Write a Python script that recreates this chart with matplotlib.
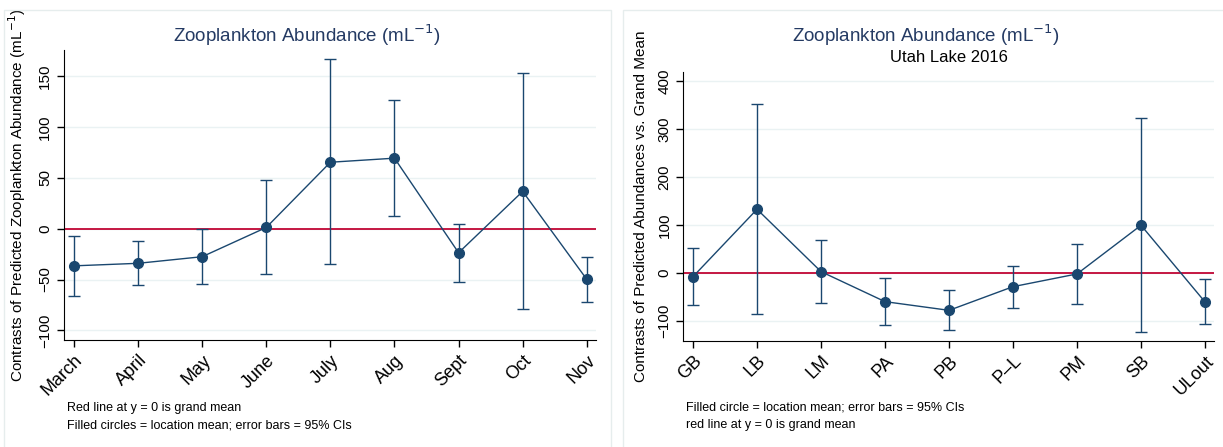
import matplotlib.pyplot as plt
from matplotlib.patches import Rectangle

plt.rcParams['font.family'] = ['Liberation Sans', 'DejaVu Sans']

# month contrasts (left panel)
months = ['March', 'April', 'May', 'June', 'July', 'Aug', 'Sept', 'Oct', 'Nov']
month_mean = [-36.5, -34, -27.5, 1.3, 65.5, 69.5, -23.6, 36.8, -49.8]
month_lo = [-66, -55, -54.5, -45, -35, 12.5, -52.5, -79, -72.5]
month_hi = [-7, -12.5, -0.6, 48, 166.7, 127, 5, 153, -27.5]

# location contrasts (right panel)
sites = ['GB', 'LB', 'LM', 'PA', 'PB', 'P\u2013L', 'PM', 'SB', 'ULout']
site_mean = [-7.6, 132.6, 2.8, -59.7, -77.8, -28.5, -2, 99.3, -60.4]
site_lo = [-66.7, -86, -61.8, -108, -118.8, -72, -64.6, -122, -107]
site_hi = [52.7, 351, 68.8, -9.7, -36, 14.6, 59.7, 322, -13]

navy = '#1a476f'
red = '#c10534'
grid = '#eaf2f3'
W, H = 1223, 447

fig = plt.figure(figsize=(W / 100, H / 100), dpi=100)

# light frames round each graph region
for x0, w in [(4, 607), (623, 610)]:
    fig.patches.append(Rectangle((x0 / W, -0.1), w / W, 1.1 - 10 / H,
                                 transform=fig.transFigure, fill=False,
                                 edgecolor='#e6eded', lw=1))


def panel(rect, labels, mean, lo, hi, ticks, ylim, xlim):
    ax = fig.add_axes(rect)
    x = list(range(len(labels)))
    ax.axhline(0, color=red, lw=1.3, zorder=2)
    err = [[m - l for m, l in zip(mean, lo)], [h - m for m, h in zip(mean, hi)]]
    ax.errorbar(x, mean, yerr=err, fmt='none', ecolor=navy, elinewidth=1,
                capsize=4, capthick=1, zorder=3)
    ax.plot(x, mean, color=navy, lw=1, marker='o', ms=7, zorder=4)
    ax.set_yticks(ticks)
    ax.set_ylim(*ylim)
    ax.set_xlim(*xlim)
    ax.set_xticks(x)
    ax.set_xticklabels(labels, rotation=45, ha='right', rotation_mode='anchor',
                       fontsize=13)
    plt.setp(ax.get_yticklabels(), rotation=90, va='center', fontsize=11)
    ax.yaxis.grid(True, color=grid, lw=1)
    ax.set_axisbelow(True)
    for s in ['top', 'right']:
        ax.spines[s].set_visible(False)
    ax.tick_params(length=5, width=1)
    return ax


ax1 = panel([64 / W, 1 - 340 / H, 532 / W, 290 / H],
            months, month_mean, month_lo, month_hi,
            [-100, -50, 0, 50, 100, 150], (-109.5, 176), (-0.156, 8.144))
ax1.set_ylabel('Contrasts of Predicted Zooplankton Abundance (mL$^{-1}$)',
               fontsize=11)
ax1.yaxis.set_label_coords(-0.068, 0.5)

ax2 = panel([683.3 / W, 1 - 340.7 / H, 530.7 / W, 269 / H],
            sites, site_mean, site_lo, site_hi,
            [-100, 0, 100, 200, 300, 400], (-141, 419), (-0.152, 8.14))
ax2.set_ylabel('Contrasts of Predicted Abundances vs. Grand Mean', fontsize=11)
ax2.yaxis.set_label_coords(-0.067, 0.5)

title_col = '#243a63'
fig.text(307 / W, 1 - 35 / H, 'Zooplankton Abundance (mL$^{-1}$)',
         ha='center', va='center', color=title_col, fontsize=13.5)
fig.text(926 / W, 1 - 35 / H, 'Zooplankton Abundance (mL$^{-1}$)',
         ha='center', va='center', color=title_col, fontsize=13.5)
fig.text(949 / W, 1 - 58 / H, 'Utah Lake 2016',
         ha='center', va='center', color='black', fontsize=12)

fig.text(67 / W, 1 - 408 / H, 'Red line at y = 0 is grand mean',
         ha='left', va='center', fontsize=9)
fig.text(67 / W, 1 - 425 / H,
         'Filled circles = location mean; error bars = 95% CIs',
         ha='left', va='center', fontsize=9)
fig.text(686 / W, 1 - 408 / H,
         'Filled circle = location mean; error bars = 95% CIs',
         ha='left', va='center', fontsize=9)
fig.text(686 / W, 1 - 425 / H, 'red line at y = 0 is grand mean',
         ha='left', va='center', fontsize=9)

fig.savefig('out.png', dpi=100)
